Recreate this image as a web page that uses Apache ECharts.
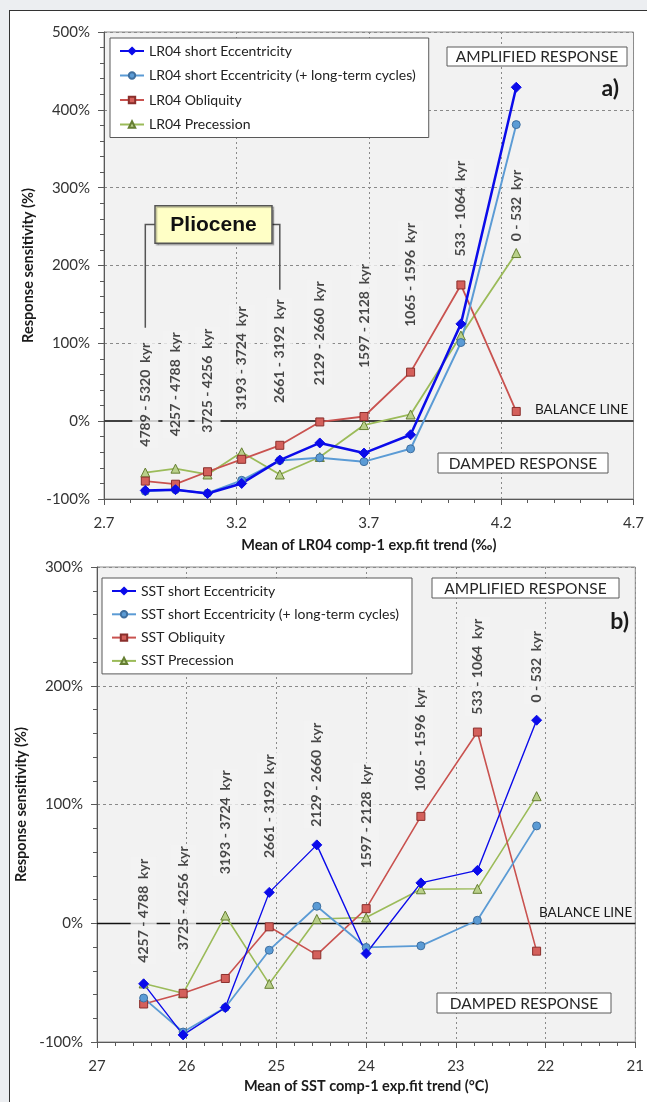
<!DOCTYPE html>
<html>
<head>
<meta charset="utf-8">
<script src="https://cdn.jsdelivr.net/npm/echarts@6/dist/echarts.min.js"></script>
<style>
  html, body { margin:0; padding:0; background:#eceef1; }
  #panel { position:absolute; left:9px; top:10px; right:0; bottom:0; background:#fff; border-left:1.5px solid #333; border-top:1.5px solid #333; }
  #chart { position:absolute; left:0; top:0; width:647px; height:1102px; }
</style>
</head>
<body>
<div id="panel"></div>
<div id="chart"></div>
<script>
// ---------- DATA ----------
// Panel a) LR04
const lr04X = [2.856, 2.970, 3.091, 3.220, 3.364, 3.515, 3.682, 3.858, 4.048, 4.257];
const lr04Ecc = [-89, -88, -93, -80, -50, -28, -41, -17.5, 125, 429];
const lr04EccLong = [-90, -88, -92.5, -76, -50.5, -47, -52, -35.5, 101, 381];
const lr04Obl = [-77, -81, -65, -49, -31, -1, 6, 63, 175, 12.5];
const lr04Prec = [-66, -61, -68.5, -40, -68.5, -46, -5, 8.6, 110, 216];
const lr04Periods = ["4789 - 5320  kyr", "4257 - 4788  kyr", "3725 - 4256  kyr", "3193 - 3724  kyr", "2661 - 3192  kyr",
                     "2129 - 2660  kyr", "1597 - 2128  kyr", "1065 - 1596  kyr", "533 - 1064  kyr", "0 - 532  kyr"];
const lr04PeriodLabelY = [34, 47.5, 52, 81, 90, 113, 135, 188, 273, 277];
const lr04Names = ["LR04 short Eccentricity", "LR04 short Eccentricity (+ long-term cycles)", "LR04 Obliquity", "LR04 Precession"];

// Panel b) SST
const sstX = [26.48, 26.04, 25.57, 25.08, 24.55, 24.00, 23.39, 22.76, 22.10];
const sstEcc = [-51, -94, -71, 26, 66, -25.5, 34, 44.5, 171];
const sstEccLong = [-63, -91.6, -71, -22.7, 14.3, -20.4, -19, 2.5, 82];
const sstObl = [-68, -59, -46.5, -3, -26.6, 12.3, 90, 161, -23.5];
const sstPrec = [-50.7, -59, 6.5, -51, 3.6, 4.8, 28.6, 29, 107];
const sstPeriods = ["4257 - 4788  kyr", "3725 - 4256  kyr", "3193 - 3724  kyr", "2661 - 3192  kyr", "2129 - 2660  kyr",
                    "1597 - 2128  kyr", "1065 - 1596  kyr", "533 - 1064  kyr", "0 - 532  kyr"];
const sstPeriodLabelY = [10.5, 21, 85, 98.6, 125, 90, 154.6, 216, 216];
const sstNames = ["SST short Eccentricity", "SST short Eccentricity (+ long-term cycles)", "SST Obliquity", "SST Precession"];

// Axis tick settings
const lr04XTicks = { min: 2.7, max: 4.7, interval: 0.5 };
const lr04YTicks = { min: -100, max: 500, interval: 100 };
const sstXTicks = { min: 21, max: 27, interval: 1 };
const sstYTicks = { min: -100, max: 300, interval: 100 };

// ---------- STYLE ----------
const FONT = 'Lato';
const styles = [
  { symbol: 'diamond', size: 10, line: '#0b0bea', fill: '#0b0bea', border: '#0b0bea' },
  { symbol: 'circle', size: 8, line: '#5b9bd5', fill: '#5b9bd5', border: '#3f6f9f' },
  { symbol: 'rect', size: 8, line: '#c9524f', fill: '#d4605b', border: '#8a2f2c' },
  { symbol: 'triangle', size: 9, line: '#9bbb59', fill: '#b9d08a', border: '#667f33' }
];
const zip = (xs, ys) => xs.map((x, i) => [x, ys[i]]);

function lineSeries(name, xs, ys, st, idx, width) {
  return {
    name, type: 'line', xAxisIndex: idx, yAxisIndex: idx, z: 7,
    data: zip(xs, ys), symbol: st.symbol, symbolSize: st.size,
    lineStyle: { color: st.line, width },
    itemStyle: { color: st.fill, borderColor: st.border, borderWidth: 1 },
    emphasis: { disabled: true }, animation: false
  };
}
function periodSeries(xs, ys, names, idx) {
  return {
    type: 'scatter', xAxisIndex: idx, yAxisIndex: idx, z: 6, silent: true,
    symbolSize: 1, itemStyle: { color: 'rgba(0,0,0,0)' },
    data: xs.map((x, i) => ({ value: [x, ys[i]], name: names[i] })),
    label: {
      show: true, position: 'inside', rotate: 90, formatter: '{b}',
      fontFamily: FONT, fontWeight: 'bold', fontSize: 14, color: '#1a1a1a',
      backgroundColor: '#f2f2f2', padding: [6, 2]
    },
    labelLayout: { hideOverlap: false },
    animation: false
  };
}
function balance(idx, color, width) {
  return {
    type: 'line', xAxisIndex: idx, yAxisIndex: idx, data: [], z: 2, silent: true,
    markLine: { silent: true, symbol: 'none', label: { show: false },
      lineStyle: { color, width, type: 'solid' }, data: [{ yAxis: 0 }], animation: false }
  };
}
function xAxisCfg(idx, ticks, name, fmt, inverse, gap) {
  return {
    type: 'value', gridIndex: idx, min: ticks.min, max: ticks.max, interval: ticks.interval, inverse: !!inverse,
    axisLine: { show: true, onZero: false, lineStyle: { color: '#595959', width: 1 } },
    axisTick: { show: true, length: 6, lineStyle: { color: '#595959' } },
    minorTick: { show: true, splitNumber: 5, length: 4, lineStyle: { color: '#595959' } },
    splitLine: { show: true, lineStyle: { color: '#8a8a8a', type: [2, 3], width: 1 } },
    axisLabel: { formatter: fmt, fontFamily: FONT, fontSize: 15, color: '#333', margin: 17 },
    name, nameLocation: 'middle', nameGap: gap,
    nameTextStyle: { fontFamily: FONT, fontWeight: 'bold', fontSize: 14.5, color: '#1a1a1a' }
  };
}
function yAxisCfg(idx, ticks, gap) {
  return {
    type: 'value', gridIndex: idx, min: ticks.min, max: ticks.max, interval: ticks.interval,
    axisLine: { show: true, lineStyle: { color: '#595959', width: 1 } },
    axisTick: { show: true, length: 6, lineStyle: { color: '#595959' } },
    minorTick: { show: true, splitNumber: 5, length: 4, lineStyle: { color: '#595959' } },
    splitLine: { show: true, lineStyle: { color: '#8a8a8a', type: [3, 3], width: 1 } },
    axisLabel: { formatter: '{value}%', fontFamily: FONT, fontSize: 15, color: '#333', margin: 14 },
    name: 'Response sensitivity (%)', nameLocation: 'middle', nameGap: gap,
    nameTextStyle: { fontFamily: FONT, fontWeight: 'bold', fontSize: 14.5, color: '#1a1a1a' }
  };
}
function legendCfg(names, left, top, gap) {
  return {
    data: names, left, top, orient: 'vertical', selectedMode: false,
    itemWidth: 24, itemHeight: 8, itemGap: gap, padding: [6, 13, 6, 9],
    backgroundColor: '#fff', borderColor: '#595959', borderWidth: 1,
    textStyle: { fontFamily: FONT, fontSize: 14, color: '#222' }
  };
}

const chart = echarts.init(document.getElementById('chart'), null, { renderer: 'canvas' });
const option = {
  animation: false,
  backgroundColor: 'transparent',
  grid: [
    { left: 104, top: 32, width: 533, height: 467, show: true, backgroundColor: '#f2f2f2', borderColor: '#8c8c8c', borderWidth: 1 },
    { left: 97, top: 567, width: 542, height: 475, show: true, backgroundColor: '#f2f2f2', borderColor: '#8c8c8c', borderWidth: 1 }
  ],
  xAxis: [
    xAxisCfg(0, lr04XTicks, 'Mean of LR04 comp-1 exp.fit trend (‰)', v => (+v).toFixed(1), false, 39),
    xAxisCfg(1, sstXTicks, 'Mean of SST comp-1 exp.fit trend (°C)', v => String(Math.round(v)), true, 37)
  ],
  yAxis: [ yAxisCfg(0, lr04YTicks, 66), yAxisCfg(1, sstYTicks, 62) ],
  legend: [ legendCfg(lr04Names, 110, 38, 10.5), legendCfg(sstNames, 102, 578, 9.3) ],
  series: [
    balance(0, '#404040', 2),
    balance(1, '#111', 1.3),
    lineSeries(lr04Names[3], lr04X, lr04Prec, styles[3], 0, 1.8),
    lineSeries(lr04Names[2], lr04X, lr04Obl, styles[2], 0, 1.8),
    lineSeries(lr04Names[1], lr04X, lr04EccLong, styles[1], 0, 2),
    lineSeries(lr04Names[0], lr04X, lr04Ecc, styles[0], 0, 2.5),
    lineSeries(sstNames[3], sstX, sstPrec, styles[3], 1, 1.6),
    lineSeries(sstNames[2], sstX, sstObl, styles[2], 1, 1.6),
    lineSeries(sstNames[1], sstX, sstEccLong, styles[1], 1, 1.8),
    lineSeries(sstNames[0], sstX, sstEcc, styles[0], 1, 1.4),
    periodSeries(lr04X, lr04PeriodLabelY, lr04Periods, 0),
    periodSeries(sstX, sstPeriodLabelY, sstPeriods, 1)
  ]
};
chart.setOption(option);

// ---------- ANNOTATIONS ----------
function box(x1, y1, x2, y2, txt, size) {
  return [
    { type: 'rect', z: 20, shape: { x: x1, y: y1, width: x2 - x1, height: y2 - y1 },
      style: { fill: '#fff', stroke: '#5a5a5a', lineWidth: 1 } },
    { type: 'text', z: 21, x: (x1 + x2) / 2, y: (y1 + y2) / 2 + 0.5,
      style: { text: txt, fill: '#262626', font: size + 'px ' + FONT, align: 'center', verticalAlign: 'middle' } }
  ];
}
function txt(x, y, t, font, align) {
  return { type: 'text', z: 21, x, y, style: { text: t, fill: '#1a1a1a', font, align: align || 'left', verticalAlign: 'middle' } };
}
const p = (g, v) => chart.convertToPixel({ gridIndex: g }, v);
const bL = p(0, [lr04X[0], 120]);
const bTop = p(0, [lr04X[0], 252.8]);
const bR = p(0, [lr04X[4], 169]);
const boxL = 155, boxR = 272, boxT = 205.7, boxB = 243.3;
const graphics = [].concat(
  box(447, 47, 627, 66, 'AMPLIFIED RESPONSE', 15.5),
  box(438, 453, 608, 473, 'DAMPED RESPONSE', 15.5),
  [txt(535, 409.5, 'BALANCE LINE', '13.5px ' + FONT)],
  [txt(619, 89, 'a)', 'bold 23px ' + FONT, 'right')],
  box(432, 578, 619, 598, 'AMPLIFIED RESPONSE', 15.5),
  box(437, 993, 611, 1013, 'DAMPED RESPONSE', 15.5),
  [txt(539, 912.5, 'BALANCE LINE', '13.5px ' + FONT)],
  [txt(629, 622, 'b)', 'bold 23px ' + FONT, 'right')],
  [
    { type: 'polyline', z: 19, shape: { points: [[bL[0], bL[1]], [bL[0], bTop[1]], [boxL, bTop[1]]] },
      style: { stroke: '#555', lineWidth: 1.5, fill: null } },
    { type: 'polyline', z: 19, shape: { points: [[boxR, bTop[1]], [bR[0], bTop[1]], [bR[0], bR[1]]] },
      style: { stroke: '#555', lineWidth: 1.5, fill: null } },
    { type: 'rect', z: 20, shape: { x: boxL, y: boxT, width: boxR - boxL, height: boxB - boxT },
      style: { fill: '#ffffc6', stroke: '#555', lineWidth: 1.5, shadowColor: 'rgba(0,0,0,0.25)', shadowOffsetX: 1.5, shadowOffsetY: 1.5, shadowBlur: 1 } },
    { type: 'text', z: 21, x: (boxL + boxR) / 2, y: (boxT + boxB) / 2 + 0.5,
      style: { text: 'Pliocene', fill: '#111', font: 'bold 21px "Liberation Sans"', align: 'center', verticalAlign: 'middle' } }
  ]
);
chart.setOption({ graphic: graphics });
</script>
</body>
</html>
